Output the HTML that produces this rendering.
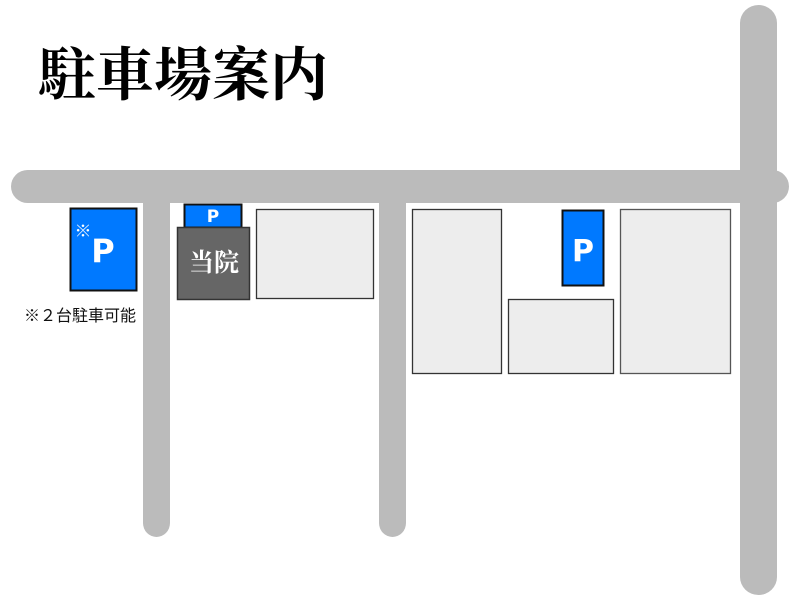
<!DOCTYPE html>
<html><head><meta charset="utf-8"><style>
html,body{margin:0;padding:0;background:#fff;}
svg{display:block;}
</style></head><body>
<svg width="800" height="600" viewBox="0 0 800 600" xmlns="http://www.w3.org/2000/svg">
<rect width="800" height="600" fill="#fff"/>
<text x="38" y="95" font-family="'Liberation Serif','Noto Serif CJK SC',serif" font-weight="bold" font-size="58" fill="#000">駐車場案内</text>
<g fill="#bbbbbb">
<rect x="143" y="180" width="27" height="357" rx="13.5" ry="14"/>
<rect x="379" y="180" width="27" height="357" rx="13.5" ry="14"/>
<rect x="740" y="5" width="37" height="590" rx="18.5" ry="18"/>
<rect x="11" y="170" width="778" height="33" rx="16.5"/>
</g>
<rect x="70.5" y="208.5" width="66" height="82" fill="#0079ff" stroke="#111" stroke-width="2"/>
<text x="83" y="237" font-family="'Liberation Sans','Noto Sans CJK JP',sans-serif" font-size="17" fill="#fff" text-anchor="middle">※</text>
<text x="103" y="262" font-family="'DejaVu Sans','Liberation Sans',sans-serif" font-weight="bold" font-size="32" fill="#fff" text-anchor="middle">P</text>
<text x="24" y="321" font-family="'Liberation Sans','Noto Sans CJK JP',sans-serif" font-size="16" fill="#111">※２台駐車可能</text>
<rect x="184.5" y="204.5" width="57" height="23" fill="#0079ff" stroke="#111" stroke-width="2"/>
<text x="213" y="222" font-family="'DejaVu Sans','Liberation Sans',sans-serif" font-weight="bold" font-size="17" fill="#fff" text-anchor="middle">P</text>
<rect x="177.5" y="227.5" width="72" height="72" fill="#666" stroke="#333" stroke-width="1.5"/>
<text x="214" y="271" font-family="'Liberation Serif','Noto Serif CJK SC',serif" font-weight="bold" font-size="25" fill="#fff" text-anchor="middle">当院</text>
<g fill="#ededed" stroke="#333" stroke-width="1.3">
<rect x="256.5" y="209.5" width="117" height="89"/>
<rect x="412.5" y="209.5" width="89" height="164"/>
<rect x="508.5" y="299.5" width="105" height="74"/>
<rect x="620.5" y="209.5" width="110" height="164" stroke="#555"/>
</g>
<rect x="562.5" y="210.5" width="41" height="75" fill="#0079ff" stroke="#111" stroke-width="2"/>
<text x="583" y="261" font-family="'DejaVu Sans','Liberation Sans',sans-serif" font-weight="bold" font-size="30" fill="#fff" text-anchor="middle">P</text>
</svg>
</body></html>
